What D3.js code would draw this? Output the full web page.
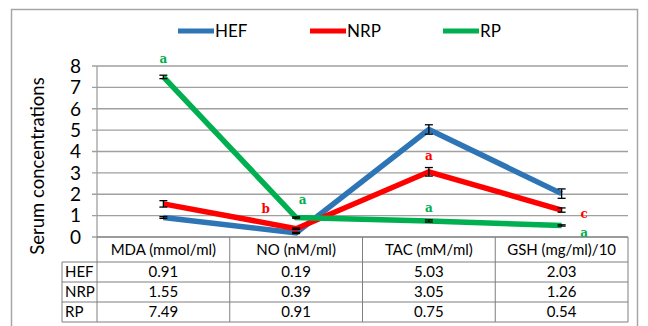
<!DOCTYPE html>
<html>
<head>
<meta charset="utf-8">
<script src="https://cdn.jsdelivr.net/npm/d3@7"></script>
<style>
  body { margin: 0; background: #fff; }
  text { font-family: Lato, "Open Sans", sans-serif; fill: #000; }
  .mark { font-family: "DejaVu Serif", "Liberation Serif", serif; font-weight: bold; }
</style>
</head>
<body>
<div class="chart"></div>
<script>
// data
var categories = ["MDA (mmol/ml)", "NO (nM/ml)", "TAC (mM/ml)", "GSH (mg/ml)/10"];
var seriesNames = ["HEF", "NRP", "RP"];
var hefValues = [0.91, 0.19, 5.03, 2.03];
var nrpValues = [1.55, 0.39, 3.05, 1.26];
var rpValues = [7.49, 0.91, 0.75, 0.54];
var hefErr = [0.04, 0.03, 0.22, 0.22];
var nrpErr = [0.15, 0.03, 0.2, 0.1];
var rpErr = [0.08, 0.03, 0.05, 0.03];
var yTicks = [0, 1, 2, 3, 4, 5, 6, 7, 8];
var colors = ["#2e75b6", "#ff0000", "#00b050"];

// significance letters: [series index, category index, y value, x shift in bands]
var letters = [
  [2, 0, 8.35, 0, "a"],
  [1, 1, 1.3, -0.23, "b"],
  [2, 1, 1.75, 0.05, "a"],
  [1, 2, 3.8, 0, "a"],
  [2, 2, 1.35, 0, "a"],
  [1, 3, 1.1, 0.17, "c"],
  [2, 3, 0.2, 0.17, "a"]
];

var allValues = [hefValues, nrpValues, rpValues];
var allErr = [hefErr, nrpErr, rpErr];

var svgWidth = 648;
var svgHeight = 326;

var svg = d3.select(".chart")
  .append("svg")
  .attr("width", svgWidth)
  .attr("height", svgHeight);

// outer frame
svg.append("rect")
  .attr("x", 11.5).attr("y", 9.5)
  .attr("width", 626).attr("height", 330)
  .attr("fill", "none")
  .attr("stroke", "#a6a6a6")
  .attr("stroke-width", 1.5);

var x = d3.scaleBand()
  .domain(categories)
  .range([97, 628]);

var y = d3.scaleLinear()
  .domain([0, 8])
  .range([237, 66]);

// gridlines
svg.append("g")
  .selectAll("line")
  .data(yTicks)
  .join("line")
  .attr("x1", 92).attr("x2", 628)
  .attr("y1", d => y(d)).attr("y2", d => y(d))
  .attr("stroke", "#a0a0a0")
  .attr("stroke-width", 1.3);

// y axis line
svg.append("line")
  .attr("x1", 97).attr("x2", 97)
  .attr("y1", y(8)).attr("y2", y(0))
  .attr("stroke", "#a0a0a0")
  .attr("stroke-width", 1.3);

// tick labels
svg.append("g")
  .selectAll("text")
  .data(yTicks)
  .join("text")
  .attr("x", 81)
  .attr("y", d => y(d))
  .attr("dy", "0.36em")
  .attr("text-anchor", "end")
  .style("font-size", "19px")
  .text(d => d);

// axis title
svg.append("text")
  .attr("transform", "translate(44, 166) rotate(-90)")
  .attr("text-anchor", "middle")
  .style("font-size", "18.5px")
  .text("Serum concentrations");

var cx = d => x(d) + x.bandwidth() / 2;

var line = d3.line()
  .x((d, i) => cx(categories[i]))
  .y(d => y(d));

// lines
svg.append("g")
  .selectAll("path")
  .data(allValues)
  .join("path")
  .attr("d", d => line(d))
  .attr("fill", "none")
  .attr("stroke", (d, i) => colors[i])
  .attr("stroke-width", 5.5)
  .attr("stroke-linejoin", "miter");

// error bars
allValues.forEach(function(vals, s) {
  var g = svg.append("g").attr("stroke", "#000").attr("stroke-width", 1.3);
  vals.forEach(function(v, i) {
    var xc = cx(categories[i]);
    var e = allErr[s][i];
    g.append("line").attr("x1", xc).attr("x2", xc).attr("y1", y(v + e)).attr("y2", y(v - e));
    g.append("line").attr("x1", xc - 4).attr("x2", xc + 4).attr("y1", y(v + e)).attr("y2", y(v + e));
    g.append("line").attr("x1", xc - 4).attr("x2", xc + 4).attr("y1", y(v - e)).attr("y2", y(v - e));
  });
});

// letters
svg.append("g")
  .selectAll("text")
  .data(letters)
  .join("text")
  .attr("class", "mark")
  .attr("x", d => cx(categories[d[1]]) + d[3] * x.bandwidth())
  .attr("y", d => y(d[2]))
  .attr("dy", "0.35em")
  .attr("text-anchor", "middle")
  .style("font-size", "12px")
  .style("fill", d => colors[d[0]])
  .text(d => d[4]);

// legend
var legendX = [178, 310, 443];
var legend = svg.append("g")
  .selectAll("g")
  .data(seriesNames)
  .join("g")
  .attr("transform", (d, i) => `translate(${legendX[i]}, 31)`);

legend.append("line")
  .attr("x1", 0).attr("x2", 36)
  .attr("stroke", (d, i) => colors[i])
  .attr("stroke-width", 5);

legend.append("text")
  .attr("x", 37)
  .attr("dy", "0.36em")
  .style("font-size", "17px")
  .text(d => d);

// data table
var rowTop = 237;
var headH = 25;
var rowH = 20;
var labelLeft = 62;
var tbl = svg.append("g");
var tableBottom = rowTop + headH + rowH * seriesNames.length;
var gridColor = "#7f7f7f";

// horizontal rules
tbl.append("line")
  .attr("x1", 97).attr("x2", 628).attr("y1", rowTop).attr("y2", rowTop)
  .attr("stroke", gridColor);
seriesNames.forEach(function(s, i) {
  var yy = rowTop + headH + rowH * i;
  tbl.append("line")
    .attr("x1", labelLeft).attr("x2", 628).attr("y1", yy).attr("y2", yy)
    .attr("stroke", gridColor);
});
tbl.append("line")
  .attr("x1", labelLeft).attr("x2", 628).attr("y1", tableBottom).attr("y2", tableBottom)
  .attr("stroke", gridColor);

// vertical rules
x.domain().forEach(function(c) {
  tbl.append("line")
    .attr("x1", x(c)).attr("x2", x(c)).attr("y1", rowTop).attr("y2", tableBottom)
    .attr("stroke", gridColor);
});
tbl.append("line")
  .attr("x1", 628).attr("x2", 628).attr("y1", rowTop).attr("y2", tableBottom)
  .attr("stroke", gridColor);
tbl.append("line")
  .attr("x1", labelLeft).attr("x2", labelLeft).attr("y1", rowTop + headH).attr("y2", tableBottom)
  .attr("stroke", gridColor);

// header text
tbl.selectAll(".head")
  .data(categories)
  .join("text")
  .attr("class", "head")
  .attr("x", d => cx(d))
  .attr("y", rowTop + headH / 2)
  .attr("dy", "0.36em")
  .attr("text-anchor", "middle")
  .style("font-size", "15px")
  .text(d => d);

// rows
seriesNames.forEach(function(s, si) {
  var yy = rowTop + headH + rowH * si + rowH / 2;
  tbl.append("text")
    .attr("x", labelLeft + 3)
    .attr("y", yy)
    .attr("dy", "0.36em")
    .style("font-size", "15px")
    .text(s);
  tbl.selectAll(".v" + si)
    .data(allValues[si])
    .join("text")
    .attr("class", "v" + si)
    .attr("x", (d, i) => cx(categories[i]))
    .attr("y", yy)
    .attr("dy", "0.36em")
    .attr("text-anchor", "middle")
    .style("font-size", "15px")
    .text(d => d.toFixed(2));
});
</script>
</body>
</html>
